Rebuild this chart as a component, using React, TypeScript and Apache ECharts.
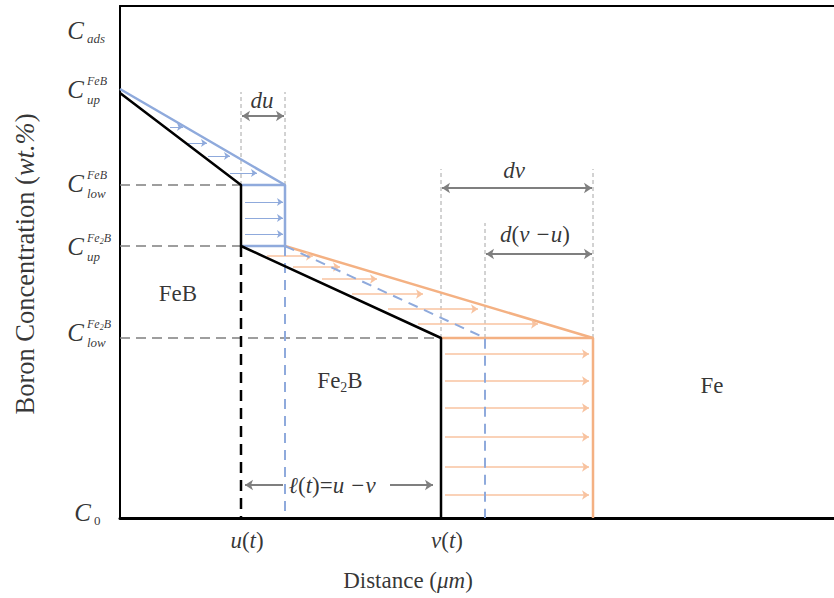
import React, { useEffect, useRef } from "react";
import * as echarts from "echarts";

// ---- axis extents (schematic units) ----
const X_MAX = 714;
const Y_MAX = 512;

// ---- distance landmarks ----
const posU = 121; // u(t)
const posUdu = 165; // u + du
const posV = 321; // v(t)
const posVdvu = 365; // v + d(v-u)
const posVdv = 473; // v + dv

// ---- concentration levels ----
const cAds = 488;
const cUpFeB = 429;
const cUpFeBStart = 425;
const cLowFeB = 333;
const cUpFe2B = 272;
const cLowFe2B = 180;
const c0 = 0;

// ---- y tick labels ----
const tickLevels = [cAds, cUpFeB, cLowFeB, cUpFe2B, cLowFe2B, c0];
const tickSup = ["", "FeB", "FeB", "Fe{s|2}B", "Fe{s|2}B", ""];
const tickSub = ["ads", "up", "low", "up", "low", "0"];
const tickNudgeY = [0, 0, -2, 0, -6, -6];
const tickNudgeX = [0, 0, 0, 0, 0, 7];

// ---- guide / dimension levels ----
const guideTopDu = 426;
const guideTopDv = 349;
const guideTopDvu = 295;
const duArrowLevel = 402;
const dvArrowLevel = 330;
const dvuArrowLevel = 264;
const ellArrowLevel = 33;
const ellLeftArrow = [163, 125];
const ellRightArrow = [270, 313];

// ---- flux arrows [xStart, xEnd, level] ----
const blueWedgeArrows = [
  [50, 63, 391],
  [67, 87, 375],
  [88, 110, 362],
  [110, 137, 345],
];
const blueRectLevels = [316, 300, 284];
const orangeWedgeArrows = [
  [147, 193, 262],
  [173, 220, 251],
  [202, 257, 239],
  [232, 303, 224],
  [268, 358, 209],
  [298, 418, 194],
];
const orangeRectLevels = [164, 137, 110, 81, 51, 23];

// ---- text annotations (data coords) ----
const phaseLabels = [
  { text: "{n|FeB}", x: 58, y: 225 },
  { text: "{n|Fe}{s|2}{n|B}", x: 220, y: 138 },
  { text: "{n|Fe}", x: 592, y: 133 },
];
const dimLabels = [
  { text: "{i|du}", x: 142, y: 418 },
  { text: "{i|dv}", x: 394, y: 348 },
  { text: "{i|d}{n|(}{i|v −u}{n|)}", x: 415, y: 284 },
  { text: "{i|ℓ}{n|(}{i|t}{n|)=}{i|u −v}", x: 212, y: ellArrowLevel },
];
const xTickLabels = [
  { text: "{i|u}{n|(}{i|t}{n|)}", x: posU + 6 },
  { text: "{i|v}{n|(}{i|t}{n|)}", x: posV + 6 },
];

const F = "Liberation Serif";
const BLUE = "#8FAADC";
const ORANGE = "#F4B183";
const ORANGE_LIGHT = "#F8C3A0";
const GRAY = "#7F7F7F";

const richBig = {
  n: { fontFamily: F, fontSize: 23, color: "#000", lineHeight: 28 },
  i: { fontFamily: F, fontSize: 23, fontStyle: "italic", color: "#000", lineHeight: 28 },
  s: { fontFamily: F, fontSize: 14, color: "#000", lineHeight: 16, verticalAlign: "bottom" },
};
const richTitle = {
  n: { fontFamily: F, fontSize: 26.5, color: "#000", lineHeight: 31 },
  i: { fontFamily: F, fontSize: 26.5, fontStyle: "italic", color: "#000", lineHeight: 31 },
};
const richSmall = {
  n: { fontFamily: F, fontSize: 12, fontStyle: "italic", color: "#000", lineHeight: 14 },
  s: { fontFamily: F, fontSize: 8, fontStyle: "italic", color: "#000", lineHeight: 9, verticalAlign: "bottom" },
};

function seg(data: number[][], color: string, width: number, type: any = "solid", z = 3) {
  return {
    type: "line",
    data,
    symbol: "none",
    showSymbol: false,
    silent: true,
    z,
    lineStyle: { color, width, type, cap: "butt" },
  };
}

function arrows(data: number[][][], color: string, width: number, both = false, size = 7) {
  return {
    type: "lines",
    coordinateSystem: "cartesian2d",
    silent: true,
    z: 4,
    symbol: both ? ["arrow", "arrow"] : ["none", "arrow"],
    symbolSize: size,
    lineStyle: { color, width, opacity: 1, curveness: 0 },
    data: data.map((c) => ({ coords: c })),
  };
}

function labels(items: any[], z = 6) {
  return {
    type: "scatter",
    symbolSize: 0,
    clip: false,
    silent: true,
    z,
    data: items,
  };
}

export default function App() {
  const ref = useRef<HTMLDivElement>(null);
  useEffect(() => {
    if (!ref.current) return;
    const chart = echarts.init(ref.current, undefined, { renderer: "svg" });

    const series: any[] = [];
    // gray dashed level lines
    series.push(seg([[0, cLowFeB], [posU, cLowFeB]], GRAY, 1.5, [10, 6], 2));
    series.push(seg([[0, cUpFe2B], [posU, cUpFe2B]], GRAY, 1.5, [10, 6], 2));
    series.push(seg([[0, cLowFe2B], [posV, cLowFe2B]], GRAY, 1.5, [10, 6], 2));
    // thin guide lines
    const thin = "#A6A6A6";
    series.push(seg([[posU, cLowFeB], [posU, guideTopDu]], thin, 1, [4, 3], 1));
    series.push(seg([[posUdu, cLowFeB], [posUdu, guideTopDu]], thin, 1, [4, 3], 1));
    series.push(seg([[posV, cLowFe2B], [posV, guideTopDv]], thin, 1, [4, 3], 1));
    series.push(seg([[posVdvu, cLowFe2B], [posVdvu, guideTopDvu]], thin, 1, [4, 3], 1));
    series.push(seg([[posVdv, cLowFe2B], [posVdv, guideTopDv]], thin, 1, [4, 3], 1));
    // orange profile
    series.push(seg([[posUdu, cUpFe2B], [posVdv, cLowFe2B], [posVdv, c0]], ORANGE, 2.5, "solid", 3));
    series.push(seg([[posV, cLowFe2B], [posVdv, cLowFe2B]], ORANGE, 2.5, "solid", 3));
    // blue profile
    series.push(seg([[0, cUpFeB], [posUdu, cLowFeB], [posUdu, cUpFe2B], [posU, cUpFe2B]], BLUE, 2.5, "solid", 4));
    series.push(seg([[posU, cLowFeB], [posUdu, cLowFeB]], BLUE, 2.5, "solid", 4));
    series.push(seg([[posUdu, cUpFe2B], [posUdu, c0]], BLUE, 2, [10, 7], 4));
    series.push(seg([[posUdu, cUpFe2B], [posVdvu, cLowFe2B], [posVdvu, c0]], BLUE, 2, [10, 7], 4));
    // black profile
    series.push(
      seg([[0, cUpFeBStart], [posU, cLowFeB], [posU, cUpFe2B], [posV, cLowFe2B], [posV, c0]], "#000", 2.5, "solid", 5)
    );
    series.push(seg([[posU, cUpFe2B], [posU, c0]], "#000", 2.5, [11, 7], 5));

    // flux arrows
    series.push(arrows(blueWedgeArrows.map((a) => [[a[0], a[2]], [a[1], a[2]]]), BLUE, 1, false, 6));
    series.push(arrows(blueRectLevels.map((l) => [[posU + 4, l], [posUdu - 2, l]]), BLUE, 1, false, 6));
    series.push(arrows(orangeWedgeArrows.map((a) => [[a[0], a[2]], [a[1], a[2]]]), ORANGE_LIGHT, 1.5, false, 7));
    series.push(arrows(orangeRectLevels.map((l) => [[posV + 4, l], [posVdv - 4, l]]), ORANGE_LIGHT, 1.5, false, 7));

    // dimension arrows
    series.push(
      arrows(
        [
          [[posU + 1, duArrowLevel], [posUdu - 1, duArrowLevel]],
          [[posV + 1, dvArrowLevel], [posVdv - 1, dvArrowLevel]],
          [[posVdvu + 1, dvuArrowLevel], [posVdv - 1, dvuArrowLevel]],
        ],
        GRAY,
        2,
        true,
        8
      )
    );
    series.push(
      arrows(
        [
          [[ellLeftArrow[0], ellArrowLevel], [ellLeftArrow[1], ellArrowLevel]],
          [[ellRightArrow[0], ellArrowLevel], [ellRightArrow[1], ellArrowLevel]],
        ],
        GRAY,
        2,
        false,
        8
      )
    );

    // y tick labels
    const mainItems = tickLevels.map((lv, k) => ({
      value: [0, lv],
      label: {
        show: true,
        formatter: "C",
        position: [-36 + tickNudgeX[k], tickNudgeY[k]],
        align: "right",
        verticalAlign: "middle",
        fontFamily: F,
        fontSize: 25,
        fontStyle: "italic",
        color: "#000",
      },
    }));
    const supItems = tickLevels
      .map((lv, k) => ({
        value: [0, lv],
        label: {
          show: tickSup[k] !== "",
          formatter: "{n|" + tickSup[k].replace("{s|2}", "}{s|2}{n|") + "}",
          position: [-33 + tickNudgeX[k], tickNudgeY[k] - 8],
          align: "left",
          verticalAlign: "middle",
          rich: richSmall,
        },
      }))
      .filter((d) => d.label.show);
    const subItems = tickLevels.map((lv, k) => ({
      value: [0, lv],
      label: {
        show: true,
        formatter: tickSub[k],
        position: [-33 + tickNudgeX[k], tickNudgeY[k] + (tickSup[k] ? 10 : 8)],
        align: "left",
        verticalAlign: "middle",
        fontFamily: F,
        fontSize: 13,
        fontStyle: tickSub[k] === "0" ? "normal" : "italic",
        color: "#000",
      },
    }));
    series.push(labels(mainItems));
    series.push(labels(supItems));
    series.push(labels(subItems));

    const textItem = (t: any) => ({
      value: [t.x, t.y],
      label: {
        show: true,
        formatter: t.text,
        position: "inside",
        align: "center",
        verticalAlign: "middle",
        rich: richBig,
      },
    });
    series.push(labels(phaseLabels.map((t) => textItem(t))));
    series.push(labels(dimLabels.map((t) => textItem(t))));
    series.push(
      labels(
        xTickLabels.map((t) => ({
          value: [t.x, c0],
          label: {
            show: true,
            formatter: t.text,
            position: [0, 22],
            align: "center",
            verticalAlign: "middle",
            rich: richBig,
          },
        }))
      )
    );
    // axis titles
    series.push(
      labels([
        {
          value: [288, c0],
          label: {
            show: true,
            formatter: "{n|Distance (}{i|μm}{n|)}",
            position: [0, 62],
            align: "center",
            verticalAlign: "middle",
            rich: richBig,
          },
        },
        {
          value: [0, 254],
          label: {
            show: true,
            formatter: "{n|Boron Concentration (}{i|wt.%}{n|)}",
            position: [-95, 0],
            rotate: 90,
            align: "center",
            verticalAlign: "middle",
            rich: richTitle,
          },
        },
      ])
    );

    chart.setOption({
      animation: false,
      backgroundColor: "#fff",
      grid: {
        left: 120,
        top: 6,
        right: 0,
        bottom: 80,
        show: false,
      },
      xAxis: [
        {
          type: "value",
          min: 0,
          max: X_MAX,
          axisLine: { show: true, onZero: false, lineStyle: { color: "#000", width: 3 } },
          axisTick: { show: false },
          axisLabel: { show: false },
          splitLine: { show: false },
        },
        {
          type: "value",
          position: "top",
          min: 0,
          max: X_MAX,
          axisLine: { show: true, onZero: false, lineStyle: { color: "#000", width: 2 } },
          axisTick: { show: false },
          axisLabel: { show: false },
          splitLine: { show: false },
        },
      ],
      yAxis: {
        type: "value",
        min: 0,
        max: Y_MAX,
        axisLine: { show: true, onZero: false, lineStyle: { color: "#000", width: 2 } },
        axisTick: { show: false },
        axisLabel: { show: false },
        splitLine: { show: false },
      },
      series,
    });
    return () => chart.dispose();
  }, []);
  return <div ref={ref} style={{ width: 834, height: 598, position: "absolute", left: 0, top: 0 }} />;
}
